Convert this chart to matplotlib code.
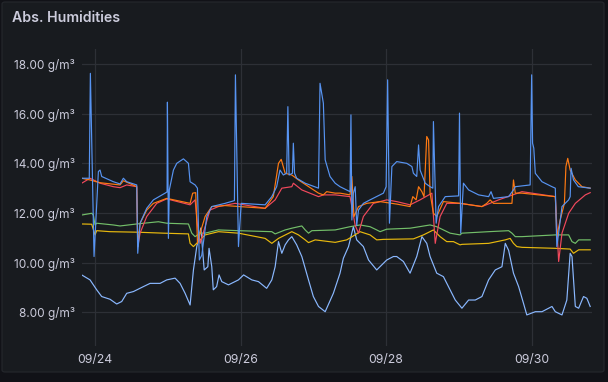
import matplotlib
matplotlib.use("Agg")
import matplotlib.pyplot as plt
import matplotlib.dates as mdates
from matplotlib.patches import FancyBboxPatch
import pandas as pd

# ---- data: hours since 09/24 00:00, values in g/m³ ----
blue_h = [-4.4, -1.9, -1.54, -0.33, 1.1, 1.65, 2.2, 6.05, 8.25, 9.35, 10.45, 13.75, 14.08, 14.85, 17.05, 19.25, 23.1, 23.76, 23.87, 24.2, 24.5, 25.85, 26.95, 29.15, 30.8, 31.35, 33.0, 33.77, 34.4, 35.2,
          36.85, 38.5, 42.9, 45.97, 46.3, 47.3, 48.2, 56.1, 58.3, 59.9, 61.0, 62.1, 63.2, 63.6, 64.0, 65.1, 65.4, 65.8, 66.5, 69.3, 73.7, 74.2, 75.3, 75.9, 77.5, 79.2,
          80.8, 84.1, 84.4, 84.7, 85.2, 85.8, 86.3, 86.9, 88.5, 90.7, 95.1, 96.0, 96.5, 97.1, 97.9, 99.5, 102.8, 104.5, 105.0, 106.1, 106.7, 107.2, 108.9, 110.5, 111.4, 111.6, 112.5, 113.3, 115.5, 119.9,
          120.2, 120.6, 121.5, 123.2, 126.5, 129.8, 130.6, 131.4, 136.4, 138.0, 138.6, 143.5, 144.0, 144.3, 144.7, 145.2, 147.4, 150.7, 151.8, 152.3, 152.9, 154.0, 156.2, 156.7, 157.0, 157.8, 159.4, 163.3]
blue_v = [13.40, 13.40, 17.62, 10.25, 13.67, 13.73, 13.47, 13.26, 13.17, 13.40, 13.26, 13.13, 10.38, 11.59, 12.19, 12.53, 12.80, 12.85, 16.46, 10.98, 12.93, 13.73, 14.00, 14.18, 14.00, 13.26, 13.13, 13.00, 10.11, 10.30,
          11.86, 12.26, 12.39, 12.50, 17.56, 10.65, 12.39, 12.33, 12.66, 13.06, 13.73, 13.53, 13.60, 16.28, 13.53, 13.60, 14.81, 13.60, 13.40, 13.20, 13.00, 17.22, 16.42, 14.14, 13.47, 13.20,
          13.06, 12.86, 15.95, 11.72, 12.80, 13.06, 11.50, 12.12, 12.39, 12.53, 12.80, 13.06, 17.36, 11.59, 13.87, 14.07, 14.00, 13.87, 13.60, 13.47, 14.74, 13.73, 13.20, 13.06, 13.00, 15.68, 11.59, 12.26, 12.66, 12.69,
          16.02, 11.19, 13.20, 12.93, 12.73, 12.66, 12.86, 12.59, 12.66, 12.93, 13.06, 13.13, 17.56, 14.81, 14.61, 13.60, 13.26, 13.06, 13.00, 10.65, 11.19, 12.26, 12.53, 12.66, 13.80, 13.33, 13.06, 13.00]

orange_h = [-4.4, -1.65, 1.65, 8.25, 9.35, 13.75, 14.1, 14.85, 17.05, 19.25, 23.65, 31.35, 32.2, 33.2, 33.8, 34.65,
            36.3, 38.5, 42.9, 56.1, 58.8, 60.5, 61.4, 62.7, 64.9, 67.1, 73.7, 75.3, 76.4, 79.2,
            80.8, 84.1, 84.7, 85.4, 86.9, 89.6, 94.0, 99.5, 103.9, 104.8, 105.9, 106.7, 107.8, 108.5, 109.4, 110.0, 110.5, 111.6, 112.7, 114.9, 120.4,
            127.6, 129.2, 130.3, 131.4, 137.5, 138.0, 138.6, 140.8, 151.8, 152.3, 153.4, 154.8, 155.3, 155.9, 156.7, 158.4, 160.6, 163.3]
orange_v = [13.40, 13.33, 13.22, 13.13, 13.30, 13.06, 10.65, 11.59, 12.12, 12.39, 12.59, 12.39, 12.80, 12.82, 10.78, 11.19,
            11.86, 12.26, 12.30, 12.19, 12.66, 14.00, 14.16, 13.60, 13.53, 13.33, 12.80, 12.73, 12.86, 12.80,
            12.80, 12.73, 13.47, 11.86, 12.26, 12.39, 12.46, 12.36, 12.26, 12.66, 12.53, 13.06, 12.86, 12.66, 15.08, 14.94, 12.80, 11.99, 11.86, 12.46, 12.39,
            12.26, 12.39, 12.53, 12.39, 12.39, 13.33, 12.80, 12.80, 12.66, 11.05, 11.72, 12.39, 13.87, 14.20, 13.73, 13.33, 13.06, 13.00]

red_h = [-4.4, -1.65, 1.65, 6.05, 8.25, 10.45, 13.75, 14.1, 14.85, 17.05, 20.35, 23.65, 31.35, 33.0, 33.8, 34.65,
         36.3, 37.9, 40.7, 46.2, 56.1, 59.4, 61.6, 64.9, 65.4, 68.2, 73.7, 75.3, 79.2,
         84.1, 85.8, 86.9, 88.5, 91.8, 96.2, 99.5, 103.9, 107.2, 111.1, 112.2, 113.8, 116.0, 120.4,
         127.6, 133.1, 140.8, 151.8, 152.9, 154.0, 156.2, 158.4, 161.7, 163.3]
red_v = [13.20, 13.40, 13.20, 13.06, 13.02, 13.13, 13.06, 10.65, 11.19, 11.86, 12.39, 12.57, 12.33, 12.53, 11.50, 10.78,
         11.45, 12.12, 12.26, 12.39, 12.19, 12.53, 13.00, 13.06, 13.20, 12.93, 12.66, 12.73, 12.73,
         12.66, 11.50, 11.19, 11.86, 12.39, 12.53, 12.46, 12.33, 12.53, 12.80, 10.78, 11.86, 12.39, 12.39,
         12.26, 12.53, 12.86, 12.66, 10.05, 11.19, 11.99, 12.39, 12.73, 12.82]

green_h = [-4.4, -1.1, -0.55, 0.0, 0.55, 6.05, 8.25, 13.75, 20.9, 23.65, 30.8, 31.9, 33.0, 34.65,
           36.3, 40.7, 47.3, 58.3, 59.4, 62.7, 64.9, 68.2, 69.3, 70.4, 71.5, 79.2,
           84.1, 87.4, 90.7, 92.9, 94.0, 96.2, 103.9, 110.5, 112.7, 114.9, 117.1, 120.4,
           121.0, 129.8, 136.4, 137.5, 138.6, 140.8, 151.8, 156.2, 157.3, 158.4, 159.5, 163.3]
green_v = [11.92, 11.99, 11.92, 11.52, 11.59, 11.52, 11.48, 11.56, 11.65, 11.59, 11.56, 11.19, 11.05, 11.19,
           11.19, 11.32, 11.29, 11.25, 11.16, 11.32, 11.39, 11.48, 11.32, 11.19, 11.29, 11.32,
           11.45, 11.52, 11.45, 11.32, 11.25, 11.35, 11.39, 11.52, 11.45, 11.32, 11.19, 11.12,
           11.19, 11.25, 11.29, 11.19, 11.05, 11.05, 11.12, 11.12, 10.85, 10.78, 10.92, 10.92]

yellow_h = [-4.4, -1.1, 0.0, 0.55, 4.95, 13.75, 22.55, 30.8, 31.35, 32.45, 34.65,
            36.3, 40.7, 47.3, 56.1, 58.3, 60.5, 64.9, 67.1, 69.3, 70.4, 72.6, 79.2,
            83.0, 85.2, 87.4, 90.7, 92.9, 95.1, 105.0, 108.3, 111.6, 113.8, 116.0, 118.2, 120.4,
            121.0, 129.8, 135.3, 136.9, 138.0, 139.1, 140.8, 151.8, 156.7, 157.8, 159.5, 163.3]
yellow_v = [11.56, 11.55, 11.12, 11.29, 11.25, 11.23, 11.19, 11.16, 10.78, 10.65, 10.92,
            11.12, 11.25, 11.19, 10.98, 10.78, 10.98, 11.25, 11.12, 10.92, 10.81, 10.92, 10.82,
            10.92, 11.08, 11.25, 11.12, 10.92, 10.94, 10.96, 11.12, 11.32, 11.05, 10.85, 10.85, 10.72,
            10.74, 10.78, 10.92, 10.98, 10.78, 10.65, 10.62, 10.58, 10.55, 10.38, 10.52, 10.52]

lblue_h = [-4.4, -1.65, 0.55, 2.2, 4.95, 7.15, 8.8, 10.45, 12.65, 15.95, 18.15, 21.45, 23.65, 26.4, 28.05, 29.7, 31.35, 32.45, 33.55, 34.9, 36.0,
           37.2, 37.6, 38.5, 39.0, 40.1, 40.9, 41.8, 44.0, 47.3, 49.0, 51.7, 53.9, 56.6, 58.3, 59.4, 60.5, 61.6, 62.7, 63.8, 64.9, 66.5, 68.2, 70.4, 72.0, 73.7, 75.9,
           78.6, 80.8, 81.9, 83.6, 85.2, 86.3, 88.5, 90.2, 92.9, 96.2, 98.4, 99.5, 101.7, 103.9, 106.1, 107.8, 109.4, 110.5, 112.7, 114.9, 117.1, 118.8,
           121.0, 123.2, 125.4, 127.6, 129.8, 132.0, 134.2, 135.3, 136.4, 138.0, 139.7, 141.3, 142.4, 145.2, 147.4, 150.7, 151.8, 154.0, 155.6, 156.7, 157.3, 158.4, 159.5, 161.1, 162.2, 163.3]
lblue_v = [9.51, 9.31, 8.91, 8.64, 8.53, 8.34, 8.44, 8.77, 8.84, 9.04, 9.17, 9.17, 9.31, 9.38, 9.17, 8.77, 8.30, 9.71, 10.65, 11.40, 9.71,
           9.84, 10.58, 9.84, 8.91, 9.04, 9.51, 9.24, 9.11, 9.31, 9.51, 9.31, 9.24, 8.97, 9.31, 9.84, 10.85, 10.38, 10.72, 10.92, 11.05, 10.72, 10.25, 9.31, 8.64, 8.24, 8.03,
           8.77, 9.58, 10.18, 10.65, 11.45, 10.92, 10.65, 10.11, 9.71, 10.11, 10.25, 10.25, 10.05, 9.58, 10.25, 11.05, 10.78, 10.25, 9.58, 9.44, 8.91, 8.50,
           8.17, 8.50, 8.50, 8.64, 9.31, 9.71, 9.84, 10.78, 10.50, 9.58, 9.04, 8.37, 7.90, 8.03, 8.03, 8.24, 8.03, 7.90, 8.50, 10.38, 10.25, 8.24, 8.17, 8.64, 8.57, 8.24]

y_ticks = [8, 10, 12, 14, 16, 18]
x_tick_days = ["2023-09-24", "2023-09-26", "2023-09-28", "2023-09-30"]
title = "Abs. Humidities"

base = pd.Timestamp("2023-09-24 00:00")
def t(hours):
    return [base + pd.Timedelta(hours=h) for h in hours]

PAGE = "#111217"
PANEL = "#181b1f"
TXT = "#ccccdc"
GRID = "#2d3036"

fig = plt.figure(figsize=(6.08, 3.82), dpi=100, facecolor=PAGE)
panel = FancyBboxPatch((2 / 608, 10 / 382), 602 / 608, 370 / 382,
                       boxstyle="round,pad=0,rounding_size=0.005",
                       transform=fig.transFigure, facecolor=PANEL,
                       edgecolor="#25282d", linewidth=0.8, zorder=-10)
fig.patches.append(panel)

fig.text(12 / 608, 1 - 18 / 382, title, color=TXT, fontsize=10.2,
         fontfamily="Inter", fontweight="semibold", va="center", ha="left")

ax = fig.add_axes([82 / 608, 1 - 346 / 382, 510 / 608, 297 / 382])
ax.set_facecolor("none")
ax.set_zorder(5)
for s in ax.spines.values():
    s.set_visible(False)

lw = 0.85
ax.plot(t(lblue_h), lblue_v, color="#8AB8FF", lw=lw)
ax.plot(t(yellow_h), yellow_v, color="#E8B90E", lw=lw)
ax.plot(t(green_h), green_v, color="#73BF69", lw=lw)
ax.plot(t(red_h), red_v, color="#F2495C", lw=lw)
ax.plot(t(orange_h), orange_v, color="#FF7A12", lw=lw)
ax.plot(t(blue_h), blue_v, color="#5794F2", lw=lw)

ax.set_ylim(6.65, 18.60)
ax.set_xlim(base + pd.Timedelta(hours=-4.3), base + pd.Timedelta(hours=163.9))
ax.set_yticks(y_ticks)
ax.set_yticklabels([f"{v:.2f} g/m³" for v in y_ticks])
ax.set_xticks([pd.Timestamp(d) for d in x_tick_days])
ax.xaxis.set_major_formatter(mdates.DateFormatter("%m/%d"))
ax.tick_params(axis="x", length=0, colors=TXT, labelsize=8.8, pad=6)
ax.tick_params(axis="y", length=0, colors=TXT, labelsize=8.5, pad=5)
for lab in ax.get_xticklabels() + ax.get_yticklabels():
    lab.set_fontfamily("Inter")
ax.grid(True, color=GRID, lw=0.9)
ax.set_axisbelow(True)

fig.savefig("out.png", dpi=100, facecolor=PAGE)
